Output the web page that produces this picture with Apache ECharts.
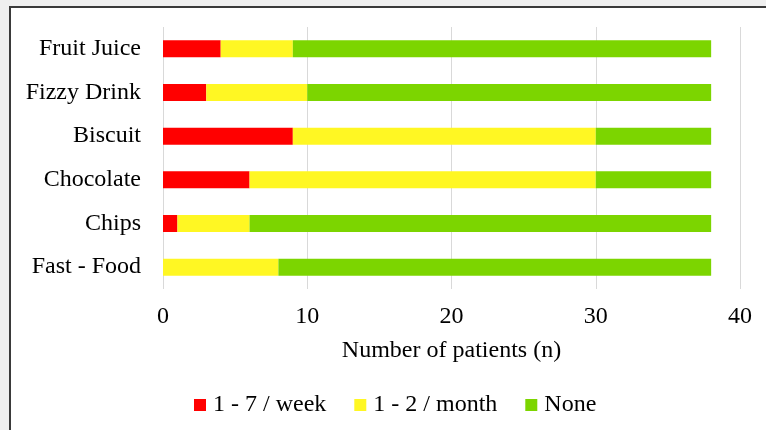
<!DOCTYPE html>
<html>
<head>
<meta charset="utf-8">
<script src="https://cdn.jsdelivr.net/npm/echarts@6/dist/echarts.min.js"></script>
<style>
  html, body { margin: 0; padding: 0; background: #efefef; }
  #frame {
    position: absolute; left: 9px; top: 6px; width: 800px; height: 460px;
    background: #fff; border-left: 2px solid #3a3a3a; border-top: 2px solid #3a3a3a;
  }
  #chart { position: absolute; left: 0; top: 0; width: 766px; height: 430px; }
</style>
</head>
<body>
<div id="frame"></div>
<div id="chart"></div>
<script>
// categories (top to bottom)
const categories = ["Fruit Juice", "Fizzy Drink", "Biscuit", "Chocolate", "Chips", "Fast - Food"];
// number of patients per frequency
const weekly = [4, 3, 9, 6, 1, 0];
const monthly = [5, 7, 21, 24, 5, 8];
const never = [29, 28, 8, 8, 32, 30];
const xTicks = [0, 10, 20, 30, 40];

const font = "Liberation Serif";
const fs = 24;

let chart = echarts.init(document.getElementById("chart"));
let option = {
  backgroundColor: "transparent",
  animation: false,
  textStyle: { fontFamily: font },
  grid: { left: 163, right: 26, top: 27, bottom: 141 },
  legend: {
    bottom: 8,
    left: 189,
    itemWidth: 12,
    itemHeight: 12,
    itemGap: 28,
    icon: "rect",
    textStyle: { fontFamily: font, fontSize: fs, color: "#000", padding: [0, 0, 0, 2] },
    data: ["1 - 7 / week", "1 - 2 / month", "None"],
  },
  xAxis: {
    type: "value",
    min: xTicks[0],
    max: xTicks[xTicks.length - 1],
    interval: 10,
    name: "Number of patients (n)",
    nameLocation: "middle",
    nameGap: 50,
    nameTextStyle: { fontFamily: font, fontSize: fs, color: "#000" },
    axisLine: { show: false },
    axisTick: { show: false },
    axisLabel: { fontFamily: font, fontSize: fs, color: "#000", margin: 16 },
    splitLine: { lineStyle: { color: "#d9d9d9", width: 1 } },
  },
  yAxis: {
    type: "category",
    inverse: true,
    data: categories,
    axisLine: { show: false },
    axisTick: { show: false },
    axisLabel: { fontFamily: font, fontSize: fs, color: "#000", margin: 22 },
  },
  series: [
    { name: "1 - 7 / week", type: "bar", stack: "all", barWidth: 17, data: weekly, itemStyle: { color: "#ff0000" } },
    { name: "1 - 2 / month", type: "bar", stack: "all", barWidth: 17, data: monthly, itemStyle: { color: "#fff723" } },
    { name: "None", type: "bar", stack: "all", barWidth: 17, data: never, itemStyle: { color: "#7cd500" } },
  ],
};
chart.setOption(option);
</script>
</body>
</html>
